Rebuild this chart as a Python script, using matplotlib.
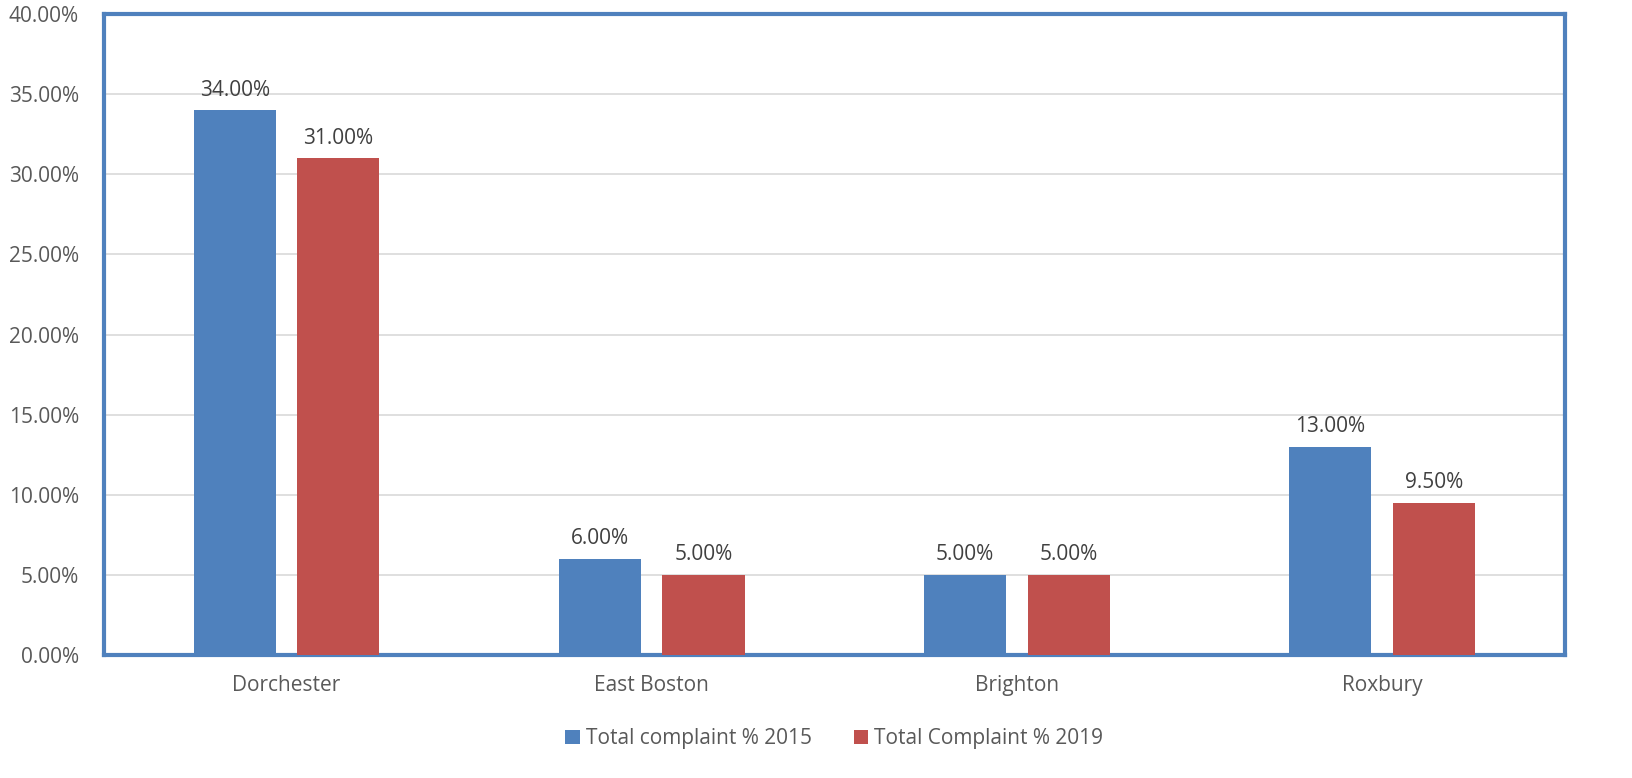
import numpy as np
import matplotlib.pyplot as plt
from matplotlib.ticker import FuncFormatter, MultipleLocator

NEIGHBORHOODS = ["Dorchester", "East Boston", "Brighton", "Roxbury"]
PCT_2015 = [0.34, 0.06, 0.05, 0.13]
PCT_2019 = [0.31, 0.05, 0.05, 0.095]
SERIES_LABELS = ["Total complaint % 2015", "Total Complaint % 2019"]

BLUE = "#4F81BD"
RED = "#C0504D"
TEXT = "#595959"
FS = 15

plt.rcParams["font.family"] = ["Open Sans", "DejaVu Sans"]

fig = plt.figure(figsize=(16.32, 7.78), dpi=100)
ax = fig.add_axes([0.0637, 0.158, 0.895, 0.824])

x = np.arange(len(NEIGHBORHOODS))
w = 0.225
off = 0.142
b1 = ax.bar(x - off, PCT_2015, w, color=BLUE, label=SERIES_LABELS[0], zorder=3)
b2 = ax.bar(x + off, PCT_2019, w, color=RED, label=SERIES_LABELS[1], zorder=3)

for bars in (b1, b2):
    for rect in bars:
        h = rect.get_height()
        ax.text(rect.get_x() + rect.get_width() / 2, h + 0.006, f"{h*100:.2f}%",
                ha="center", va="bottom", fontsize=FS, color="#404040")

ax.set_xlim(-0.5, len(NEIGHBORHOODS) - 0.5)
ax.set_ylim(0, 0.40)
ax.yaxis.set_major_locator(MultipleLocator(0.05))
ax.yaxis.set_major_formatter(FuncFormatter(lambda v, _: f"{v*100:.2f}%"))
ax.set_xticks(x)
ax.set_xticklabels(NEIGHBORHOODS)
ax.tick_params(axis="both", length=0, labelsize=FS, labelcolor=TEXT)
ax.tick_params(axis="x", pad=14)
ax.tick_params(axis="y", pad=18)
ax.grid(axis="y", color="#D9D9D9", linewidth=1.2, zorder=0)

for s in ax.spines.values():
    s.set_color(BLUE)
    s.set_linewidth(3)

ax.legend(loc="upper center", bbox_to_anchor=(0.5, -0.085), ncol=2, frameon=False,
          fontsize=FS, labelcolor=TEXT, handlelength=0.7, handleheight=0.7,
          columnspacing=2.0, handletextpad=0.3)

fig.savefig("out.png", dpi=100)
